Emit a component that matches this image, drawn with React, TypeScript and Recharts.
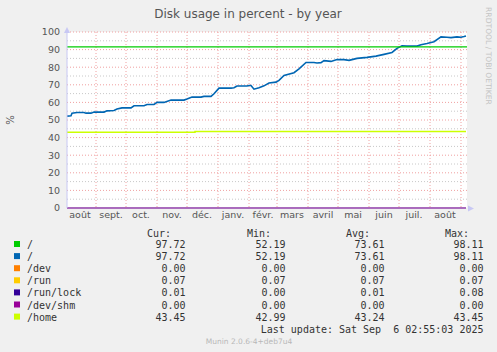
import React from "react";
import { LineChart, Line, XAxis, YAxis, CartesianGrid, ReferenceLine } from "recharts";

// day index 0 = 3 Aug 2024, 399 = 6 Sep 2025
const rootDays = [0, 4, 5, 10, 17, 19, 24, 27, 37, 40, 47, 50, 55, 64, 67, 77, 80, 87, 90, 97, 104, 117, 120, 125, 134, 137, 144, 147, 152, 164, 167, 170, 180, 182, 184, 187, 192, 197, 202, 209, 212, 217, 227, 232, 239, 247, 250, 254, 257, 264, 270, 277, 282, 287, 290, 300, 309, 317, 325, 330, 335, 340, 350, 354, 360, 367, 374, 380, 384, 390, 394, 397, 399];
const rootValues = [52.2, 52.4, 53.9, 54.3, 54.3, 53.9, 53.9, 54.5, 54.5, 55.2, 55.4, 56.2, 56.9, 56.9, 58.1, 58.1, 58.8, 58.8, 60.0, 60.0, 61.3, 61.3, 61.9, 63.0, 63.0, 63.4, 63.4, 64.9, 68.1, 68.1, 68.3, 69.3, 69.3, 69.6, 69.6, 67.5, 68.3, 69.4, 71.0, 71.5, 72.5, 75.3, 76.9, 79.1, 82.7, 82.7, 82.4, 82.6, 83.7, 83.3, 84.4, 84.3, 83.9, 84.6, 85.0, 85.6, 86.3, 87.3, 88.4, 90.7, 92.2, 92.0, 92.0, 92.8, 93.5, 94.5, 97.2, 97.0, 96.8, 97.2, 97.0, 97.4, 97.72];
const greenLevel = 91.5;
const homeDays = [0, 128, 399];
const homeValues = [42.99, 43.45, 43.45];
const smallDays = [0, 399];
const devValues = [0, 0];
const runValues = [0.07, 0.07];
const runLockValues = [0.01, 0.01];
const devShmValues = [0, 0];

const monthStarts = [29, 59, 90, 120, 151, 182, 210, 241, 271, 302, 332, 363, 394];
const monthMids = [13, 44, 74, 105, 135, 166, 196, 225, 256, 286, 317, 347, 378];
const monthLabels = ["août", "sept.", "oct.", "nov.", "déc.", "janv.", "févr.", "mars", "avril", "mai", "juin", "juil.", "août"];
const yTicks = [0, 10, 20, 30, 40, 50, 60, 70, 80, 90, 100];
const yMinor = [5, 15, 25, 35, 45, 55, 65, 75, 85, 95];

const legendNames = ["/", "/", "/dev", "/run", "/run/lock", "/dev/shm", "/home"];
const legendColors = ["#00cc00", "#0066b3", "#ff8000", "#ffcc00", "#330099", "#990099", "#ccff00"];
const curVals = ["97.72", "97.72", "0.00", "0.07", "0.01", "0.00", "43.45"];
const minVals = ["52.19", "52.19", "0.00", "0.07", "0.00", "0.00", "42.99"];
const avgVals = ["73.61", "73.61", "0.00", "0.07", "0.01", "0.00", "43.24"];
const maxVals = ["98.11", "98.11", "0.00", "0.07", "0.08", "0.00", "43.45"];

const rootData = rootDays.map((d, i) => ({ d, v: rootValues[i] }));
const homeData = homeDays.map((d, i) => ({ d, v: homeValues[i] }));
const smallData = smallDays.map((d, i) => ({ d, dev: devValues[i], run: runValues[i], lock: runLockValues[i], shm: devShmValues[i] }));

const W = 497;
const H = 352;
const sans = "'DejaVu Sans', Verdana, sans-serif";
const mono = "'DejaVu Sans Mono', monospace";

export default function App() {
  const rowY = (i: number) => 248 + i * 12.1;
  return (
    <div style={{ position: "absolute", left: 0, top: 0, width: W, height: H, background: "#f0f0f0", fontFamily: sans }}>
      <LineChart width={W} height={H} margin={{ top: 32, right: 30, bottom: 0, left: 27 }} style={{ position: "absolute", left: 0, top: 0 }}>
        <CartesianGrid xAxisId="g" yAxisId="y" fill="#ffffff" vertical={false} horizontalValues={yMinor} stroke="#c8c8c8" strokeDasharray="1 2" />
        <CartesianGrid xAxisId="g" yAxisId="y" horizontalValues={yTicks.slice(1)} verticalValues={monthStarts} stroke="#f0a0a0" strokeDasharray="1 2" />
        <XAxis
          xAxisId="g"
          type="number"
          dataKey="d"
          domain={[0, 400]}
          allowDataOverflow
          ticks={monthMids}
          tickFormatter={(v: number) => monthLabels[monthMids.indexOf(v)]}
          axisLine={false}
          tickLine={false}
          tickSize={0}
          tickMargin={3}
          height={144}
          interval={0}
          tick={{ fill: "#555", fontSize: 9.5, fontFamily: sans }}
        />
        <YAxis
          yAxisId="y"
          type="number"
          domain={[0, 100]}
          ticks={yTicks}
          width={40}
          interval={0}
          axisLine={{ stroke: "#c8c8f4" }}
          tickLine={false}
          tickSize={0}
          tickMargin={7}
          tick={{ fill: "#555", fontSize: 9.5, fontFamily: sans }}
        />
        <Line xAxisId="g" yAxisId="y" data={smallData} dataKey="dev" stroke="#ff8000" strokeWidth={1} dot={false} isAnimationActive={false} />
        <Line xAxisId="g" yAxisId="y" data={smallData} dataKey="run" stroke="#ffcc00" strokeWidth={1} dot={false} isAnimationActive={false} />
        <Line xAxisId="g" yAxisId="y" data={smallData} dataKey="lock" stroke="#330099" strokeWidth={1} dot={false} isAnimationActive={false} />
        <Line xAxisId="g" yAxisId="y" data={smallData} dataKey="shm" stroke="#b070d8" strokeWidth={1.5} dot={false} isAnimationActive={false} />
        <Line xAxisId="g" yAxisId="y" data={homeData} dataKey="v" type="stepAfter" stroke="#ccff00" strokeWidth={1.5} dot={false} isAnimationActive={false} />
        <Line xAxisId="g" yAxisId="y" data={rootData} dataKey="v" type="linear" stroke="#0066b3" strokeWidth={1.6} dot={false} isAnimationActive={false} />
        <ReferenceLine xAxisId="g" yAxisId="y" y={greenLevel} stroke="#00cc00" strokeWidth={1.2} ifOverflow="visible" />
      </LineChart>
      <svg width={W} height={H} style={{ position: "absolute", left: 0, top: 0, pointerEvents: "none" }}>
        <polygon points="64,33 70,33 67,27" fill="#c8c8f4" />
        <polygon points="468,205.5 468,211.5 474,208.5" fill="#c8c8f4" />
        <text x={248} y={18} textAnchor="middle" fontSize={12} fill="#555" fontFamily={sans}>Disk usage in percent - by year</text>
        <text x={14} y={120} textAnchor="middle" fontSize={10} fill="#555" fontFamily={sans} transform="rotate(-90 14 120)">%</text>
        <text x={486} y={56} textAnchor="middle" fontSize={7.6} fill="#c4c4c4" fontFamily={sans} transform="rotate(90 486 56)">RRDTOOL / TOBI OETIKER</text>
        <g fontFamily={mono} fontSize={10} fill="#333">
          <text x={171} y={237} textAnchor="end">Cur:</text>
          <text x={271} y={237} textAnchor="end">Min:</text>
          <text x={370} y={237} textAnchor="end">Avg:</text>
          <text x={469} y={237} textAnchor="end">Max:</text>
          {legendNames.map((n, i) => (
            <g key={i}>
              <rect x={14} y={rowY(i) - 7} width={6} height={6} fill={legendColors[i]} />
              <text x={27} y={rowY(i)}>{n}</text>
              <text x={185.5} y={rowY(i)} textAnchor="end">{curVals[i]}</text>
              <text x={285.5} y={rowY(i)} textAnchor="end">{minVals[i]}</text>
              <text x={384.5} y={rowY(i)} textAnchor="end">{avgVals[i]}</text>
              <text x={483.5} y={rowY(i)} textAnchor="end">{maxVals[i]}</text>
            </g>
          ))}
          <text x={483.5} y={333} textAnchor="end" style={{ whiteSpace: "pre" }}>{"Last update: Sat Sep  6 02:55:03 2025"}</text>
        </g>
        <text x={249} y={344} textAnchor="middle" fontSize={7.5} fill="#b8b8b8" fontFamily={sans}>Munin 2.0.6-4+deb7u4</text>
      </svg>
    </div>
  );
}
